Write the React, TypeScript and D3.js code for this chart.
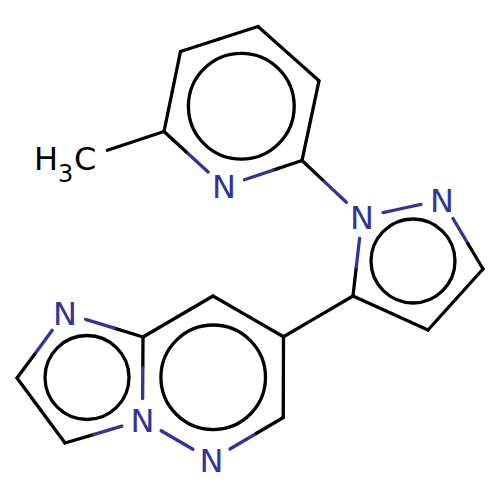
import * as d3 from 'd3';
import { FunctionComponent } from "react";

// molecule coordinates, 0..100 over the picture
const atomNames = ['C1', 'C2', 'C3', 'C4', 'C5', 'C6', 'N7', 'N8', 'N9', 'C10', 'C11', 'C12', 'C13', 'C14', 'C15', 'N16', 'N17', 'C18', 'N19', 'C20', 'C21'];
const atomX = [17.4, 32.8, 36.1, 51.6, 63.8, 60.4, 44.8, 72.4, 88.4, 96.6, 85.6, 70.6, 56.7, 42.6, 28.6, 28.5, 42.3, 56.65, 13.0, 3.4, 13.0];
const atomY = [31.4, 26.3, 10.3, 5.3, 16.15, 32.1, 37.3, 43.4, 40.0, 53.8, 66.0, 59.2, 67.35, 59.2, 67.4, 84.0, 92.0, 83.5, 62.6, 75.6, 88.6];
const atomElement = ['C', 'C', 'C', 'C', 'C', 'C', 'N', 'N', 'N', 'C', 'C', 'C', 'C', 'C', 'C', 'N', 'N', 'C', 'N', 'C', 'C'];

const bondFrom = ['C2', 'C3', 'C4', 'C5', 'C6', 'N7', 'C6', 'N8', 'N9', 'C10', 'C11', 'C12', 'C12', 'C13', 'C14', 'C15', 'N16', 'N17', 'C18', 'C15', 'N19', 'C20', 'C21'];
const bondTo = ['C3', 'C4', 'C5', 'C6', 'N7', 'C2', 'N8', 'N9', 'C10', 'C11', 'C12', 'N8', 'C13', 'C14', 'C15', 'N16', 'N17', 'C18', 'C13', 'N19', 'C20', 'C21', 'N16'];

// aromatic rings drawn as circles
const ringX = [48.26, 82.6, 42.64, 17.4];
const ringY = [21.24, 52.2, 75.46, 75.5];
const ringR = [10.58, 8.4, 10.46, 8.4];

const navy = '#333399';
const ink = '#000000';
const clearance = 21.5;
const lineWidth = 3.3;

export const App: FunctionComponent = () => {
    const size = 500;
    const x = d3.scaleLinear([0, 100], [0, size]);
    const y = d3.scaleLinear([0, 100], [0, size]);
    const r = d3.scaleLinear([0, 100], [0, size]);
    const line = d3.line<number[]>().x(d => d[0]).y(d => d[1]);

    const atoms = new Map(atomNames.map((name, i) => [name, {
        x: x(atomX[i]),
        y: y(atomY[i]),
        element: atomElement[i],
    }]));

    const segments: { d: string, color: string }[] = [];
    bondFrom.forEach((from, i) => {
        const a = atoms.get(from)!;
        const b = atoms.get(bondTo[i])!;
        const len = Math.hypot(b.x - a.x, b.y - a.y);
        const ux = (b.x - a.x) / len;
        const uy = (b.y - a.y) / len;
        const hetA = a.element !== 'C';
        const hetB = b.element !== 'C';
        // labelled atoms leave a gap, the visible part is split in half for the colours
        const start = [a.x + ux * (hetA ? clearance : 0), a.y + uy * (hetA ? clearance : 0)];
        const end = [b.x - ux * (hetB ? clearance : 0), b.y - uy * (hetB ? clearance : 0)];
        const mid = [(start[0] + end[0]) / 2, (start[1] + end[1]) / 2];
        segments.push({ d: line([start, mid])!, color: hetA ? navy : ink });
        segments.push({ d: line([mid, end])!, color: hetB ? navy : ink });
    });

    // methyl bond stops short of the H3C label
    const c1 = atoms.get('C1')!;
    const c2 = atoms.get('C2')!;
    const mLen = Math.hypot(c2.x - c1.x, c2.y - c1.y);
    const methylStart = [c1.x + (c2.x - c1.x) / mLen * clearance, c1.y + (c2.y - c1.y) / mLen * clearance];

    const font = '"DejaVu Sans", sans-serif';

    return <svg width={size} height={size} viewBox={`0 0 ${size} ${size}`}
        style={{ position: 'absolute', left: 0, top: 0, background: '#fff' }}>
        {segments.map((s, i) =>
            <path key={i} d={s.d} fill="none" stroke={s.color} strokeWidth={lineWidth} strokeLinecap="round" />)}
        <path d={line([methylStart, [c2.x, c2.y]])!} fill="none" stroke={ink} strokeWidth={lineWidth} strokeLinecap="round" />
        {ringX.map((cx, i) =>
            <circle key={i} cx={x(cx)} cy={y(ringY[i])} r={r(ringR[i])} fill="none" stroke={ink} strokeWidth={lineWidth} />)}
        {atomNames.map(name => {
            const atom = atoms.get(name)!;
            if (atom.element !== 'N') return null;
            return <text key={name} x={atom.x} y={atom.y + 11.5} textAnchor="middle" fontFamily={font} fontSize={32} fill={navy}>N</text>;
        })}
        <text x={c1.x - 53} y={c1.y + 13} fontFamily={font} fontSize={32} fill={ink}>H</text>
        <text x={c1.x - 29} y={c1.y + 25} fontFamily={font} fontSize={24} fill={ink}>3</text>
        <text x={c1.x - 13} y={c1.y + 13} fontFamily={font} fontSize={32} fill={ink}>C</text>
    </svg>
}

export default App;
